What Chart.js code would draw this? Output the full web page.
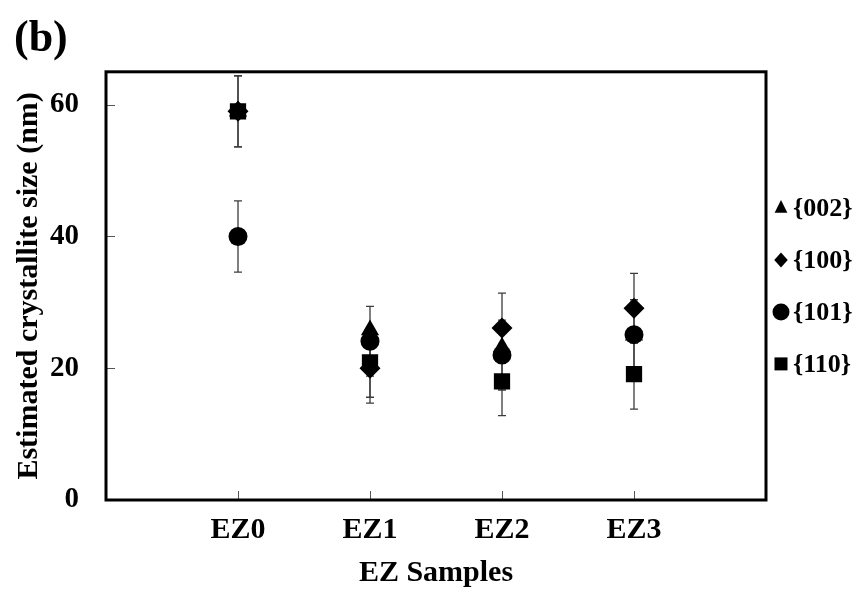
<!DOCTYPE html>
<html>
<head>
<meta charset="utf-8">
<title>Estimated crystallite size</title>
<script src="https://cdn.jsdelivr.net/npm/chart.js@4.4.1/dist/chart.umd.min.js"></script>
<style>
  html, body { margin: 0; padding: 0; background: #fff; }
</style>
</head>
<body>
<canvas id="chart" width="868" height="592"></canvas>
<script>
// data (nm)
const categories = ['EZ0', 'EZ1', 'EZ2', 'EZ3'];
const yTicks = [0, 20, 40, 60];

const s002 = [59, 25.8, 23.2, 25];
const s100 = [59, 20, 26.1, 29.1];
const s101 = [40, 24.1, 22, 25.1];
const s110 = [59, 20.9, 18, 19.1];

const err100 = [5.4, 5.3, 5.3, 5.3];
const err101 = [5.4, 5.3, 5.3, 5.3];
const err110 = [5.4, 5.3, 5.2, 5.3];

const FONT = "'Liberation Serif', 'Times New Roman', serif";

function points(vals) {
  return categories.map((c, i) => ({ x: i + 1, y: vals[i] }));
}

function series(label, vals, style, radius, errors) {
  return {
    label,
    data: points(vals),
    errors,
    pointStyle: style,
    pointRadius: radius,
    pointHoverRadius: radius,
    pointBackgroundColor: '#000',
    pointBorderWidth: 0,
    backgroundColor: '#000',
    borderColor: '#000',
    showLine: false,
  };
}

// vertical error bars, drawn under the markers
const errorBars = {
  id: 'errorBars',
  beforeDatasetsDraw(chart) {
    const { ctx, scales: { x, y } } = chart;
    ctx.save();
    ctx.strokeStyle = '#3c3c3c';
    ctx.lineWidth = 1.3;
    chart.data.datasets.forEach(ds => {
      if (!ds.errors) return;
      ds.data.forEach((p, i) => {
        const e = ds.errors[i];
        const px = x.getPixelForValue(p.x);
        const top = y.getPixelForValue(p.y + e);
        const bot = y.getPixelForValue(p.y - e);
        ctx.beginPath();
        ctx.moveTo(px, top); ctx.lineTo(px, bot);
        ctx.moveTo(px - 4, top); ctx.lineTo(px + 4, top);
        ctx.moveTo(px - 4, bot); ctx.lineTo(px + 4, bot);
        ctx.stroke();
      });
    });
    ctx.restore();
  }
};

// box frame + small inward tick marks
const frame = {
  id: 'frame',
  afterDatasetsDraw(chart) {
    const { ctx, chartArea: a, scales: { x, y } } = chart;
    ctx.save();
    ctx.strokeStyle = '#555';
    ctx.lineWidth = 1;
    ctx.beginPath();
    categories.forEach((c, i) => {
      const px = Math.round(x.getPixelForValue(i + 1)) + 0.5;
      ctx.moveTo(px, a.bottom); ctx.lineTo(px, a.bottom - 9);
    });
    yTicks.forEach(v => {
      if (v === 0) return;
      const py = Math.round(y.getPixelForValue(v)) + 0.5;
      ctx.moveTo(a.left, py); ctx.lineTo(a.left + 9, py);
    });
    ctx.stroke();
    ctx.strokeStyle = '#000';
    ctx.lineWidth = 3;
    ctx.strokeRect(a.left, a.top, a.right - a.left, a.bottom - a.top);
    ctx.restore();
  }
};

// legend on the right, markers + labels
const legendSizes = [8, 7.5, 8.5, 6.5];
const sideLegend = {
  id: 'sideLegend',
  afterDraw(chart) {
    const { ctx, chartArea: a } = chart;
    const mid = (a.top + a.bottom) / 2;
    ctx.save();
    ctx.fillStyle = '#000';
    ctx.font = `bold 26px ${FONT}`;
    ctx.textBaseline = 'middle';
    chart.data.datasets.forEach((ds, i) => {
      const cy = mid + (i - 1.5) * 52;
      const cx = a.right + 15;
      const r = legendSizes[i];
      ctx.beginPath();
      if (ds.pointStyle === 'triangle') {
        ctx.moveTo(cx, cy - r);
        ctx.lineTo(cx + r * 0.8, cy + r * 0.6);
        ctx.lineTo(cx - r * 0.8, cy + r * 0.6);
      } else if (ds.pointStyle === 'rectRot') {
        ctx.moveTo(cx, cy - r); ctx.lineTo(cx + r * 0.9, cy);
        ctx.lineTo(cx, cy + r); ctx.lineTo(cx - r * 0.9, cy);
      } else if (ds.pointStyle === 'circle') {
        ctx.arc(cx, cy, r, 0, Math.PI * 2);
      } else {
        ctx.rect(cx - r, cy - r, 2 * r, 2 * r);
      }
      ctx.closePath();
      ctx.fill();
      ctx.fillText(ds.label, cx + 12, cy + 1);
    });
    ctx.restore();
  }
};

new Chart(document.getElementById('chart'), {
  type: 'scatter',
  data: {
    datasets: [
      series('{002}', s002, 'triangle', 10.5, null),
      series('{100}', s100, 'rectRot', 10.5, err100),
      series('{101}', s101, 'circle', 9.5, err101),
      series('{110}', s110, 'rect', 11.5, err110),
    ],
  },
  options: {
    responsive: false,
    animation: false,
    devicePixelRatio: 1,
    layout: { padding: { left: 14, right: 102, top: 0, bottom: 0 } },
    plugins: {
      legend: { display: false },
      tooltip: { enabled: false },
      title: {
        display: true,
        text: '(b)',
        align: 'start',
        color: '#000',
        font: { family: FONT, size: 44, weight: 'bold' },
        padding: { top: 13, bottom: 6 },
      },
    },
    scales: {
      x: {
        type: 'linear',
        min: 0,
        max: 5,
        afterBuildTicks: s => { s.ticks = categories.map((c, i) => ({ value: i + 1 })); },
        afterFit: s => { s.height = 92; },
        ticks: {
          callback: (v, i) => categories[i],
          color: '#000',
          font: { family: FONT, size: 30, weight: 'bold' },
          padding: 12,
          autoSkip: false,
          maxRotation: 0,
        },
        grid: { display: false, drawTicks: false },
        border: { display: false },
        title: {
          display: true,
          text: 'EZ Samples',
          color: '#000',
          font: { family: FONT, size: 30, weight: 'bold' },
          padding: { top: 0, bottom: 1 },
        },
      },
      y: {
        min: 0,
        max: 65,
        afterBuildTicks: s => { s.ticks = yTicks.map(v => ({ value: v })); },
        afterFit: s => { s.width = 92; },
        ticks: {
          color: '#000',
          font: { family: FONT, size: 29, weight: 'bold' },
          padding: 27,
        },
        grid: { display: false, drawTicks: false },
        border: { display: false },
        title: {
          display: true,
          text: 'Estimated crystallite size (nm)',
          color: '#000',
          font: { family: FONT, size: 30, weight: 'bold', lineHeight: 1 },
          padding: 0,
        },
      },
    },
  },
  plugins: [errorBars, frame, sideLegend],
});
</script>
</body>
</html>
